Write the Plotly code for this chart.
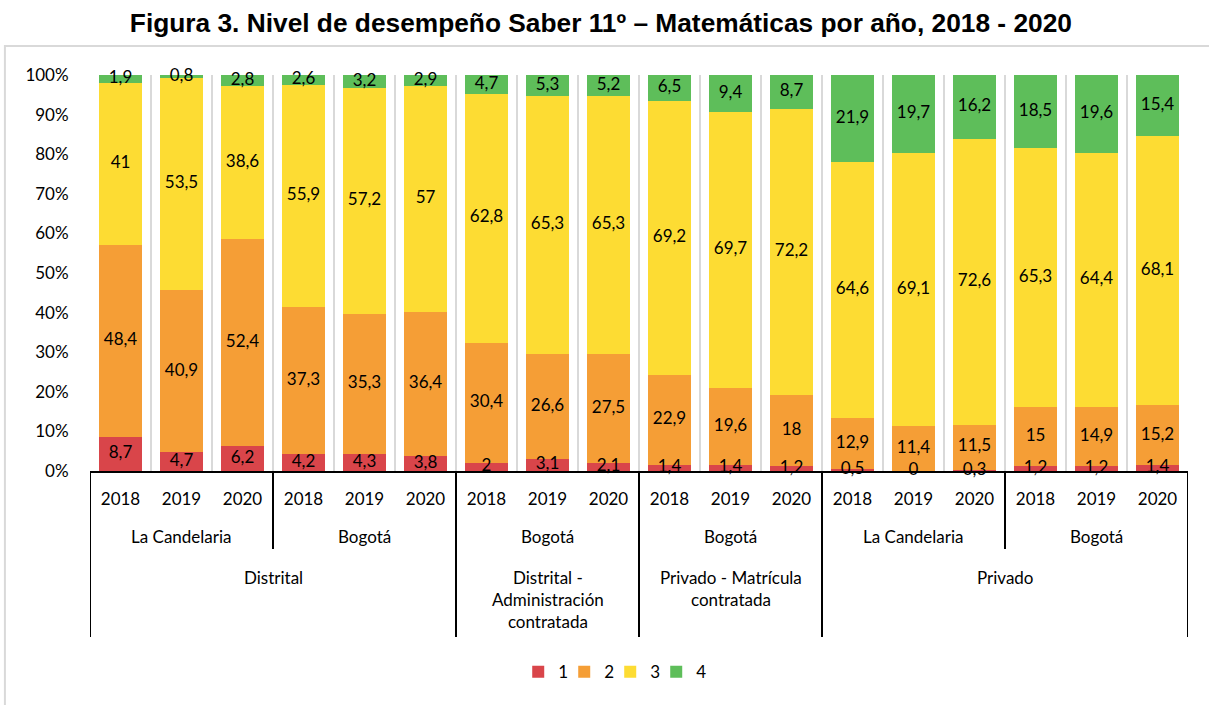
import plotly.graph_objects as go

# ---------------- data ----------------
years = ["2018", "2019", "2020"] * 6
locations = ["La Candelaria"] * 3 + ["Bogotá"] * 3 + ["Bogotá"] * 3 + ["Bogotá"] * 3 + ["La Candelaria"] * 3 + ["Bogotá"] * 3
sectors = (["Distrital"] * 6
           + ["Distrital -<br>Administración<br>contratada"] * 3
           + ["Privado - Matrícula<br>contratada"] * 3
           + ["Privado"] * 6)

level_names = ["1", "2", "3", "4"]
nivel1 = [8.7, 4.7, 6.2, 4.2, 4.3, 3.8, 2, 3.1, 2.1, 1.4, 1.4, 1.2, 0.5, 0, 0.3, 1.2, 1.2, 1.4]
nivel2 = [48.4, 40.9, 52.4, 37.3, 35.3, 36.4, 30.4, 26.6, 27.5, 22.9, 19.6, 18, 12.9, 11.4, 11.5, 15, 14.9, 15.2]
nivel3 = [41, 53.5, 38.6, 55.9, 57.2, 57, 62.8, 65.3, 65.3, 69.2, 69.7, 72.2, 64.6, 69.1, 72.6, 65.3, 64.4, 68.1]
nivel4 = [1.9, 0.8, 2.8, 2.6, 3.2, 2.9, 4.7, 5.3, 5.2, 6.5, 9.4, 8.7, 21.9, 19.7, 16.2, 18.5, 19.6, 15.4]
series = [nivel1, nivel2, nivel3, nivel4]
colors = ["#D9454A", "#F59E36", "#FDDC33", "#5EBE5A"]

y_ticks = list(range(0, 101, 10))
y_ticktext = [f"{v}%" for v in y_ticks]

title = "Figura 3. Nivel de desempeño Saber 11º – Matemáticas por año, 2018 - 2020"

FONT = "Lato, Open Sans, sans-serif"
FS = 17
n = len(years)
xs = list(range(n))

fig = go.Figure()
for name, vals, col in zip(level_names, series, colors):
    fig.add_trace(go.Bar(x=xs, y=vals, name=name, marker=dict(color=col, line=dict(width=0)),
                         hoverinfo="y+name"))
# invisible spacer entry so the last legend label is not clipped
fig.add_trace(go.Bar(x=[0], y=[0], name=" ",
                     marker=dict(color="rgba(255,255,255,0)", line=dict(width=0, color="rgba(255,255,255,0)")),
                     hoverinfo="skip", showlegend=True))

# data labels on top of all bars (normalized to 100%)
totals = [sum(s[i] for s in series) for i in range(n)]
lx, ly, lt = [], [], []
for i in range(n):
    cum = 0.0
    for s in series:
        v = s[i]
        lx.append(i)
        ly.append((cum + v / 2) / totals[i] * 100)
        lt.append(f"{v:g}".replace(".", ","))
        cum += v
fig.add_trace(go.Scatter(x=lx, y=ly, text=lt, mode="text", showlegend=False,
                         textfont=dict(family=FONT, size=FS, color="#000000"),
                         cliponaxis=False, hoverinfo="skip"))

# ---------------- multi-level category axis ----------------
shapes = []
annotations = []

def groups(labels):
    out = []
    start = 0
    for i in range(1, n + 1):
        if i == n or labels[i] != labels[start] or (labels is locations and sectors[i] != sectors[start]):
            out.append((start, i - 1, labels[start]))
            start = i
    return out

Y_LOC = -0.165
Y_SEC = -0.238
Y_SHORT = -0.197
Y_LONG = -0.419

for a, b, lab in groups(locations):
    annotations.append(dict(x=(a + b) / 2, y=Y_LOC, xref="x", yref="paper", text=lab, showarrow=False,
                            yanchor="middle", font=dict(family=FONT, size=FS, color="#000")))
for a, b, lab in groups(sectors):
    annotations.append(dict(x=(a + b) / 2, y=Y_SEC, xref="x", yref="paper", text=lab, showarrow=False,
                            yanchor="top", font=dict(family=FONT, size=FS, color="#000")))

for i in range(n + 1):
    xb = i - 0.5
    if i == 0 or i == n or sectors[i] != sectors[i - 1]:
        y1 = Y_LONG
    elif locations[i] != locations[i - 1]:
        y1 = Y_SHORT
    else:
        continue
    shapes.append(dict(type="line", xref="x", yref="paper", x0=xb, x1=xb, y0=0, y1=y1,
                       line=dict(color="#000000", width=2)))

# outer chart frame
shapes.append(dict(type="rect", xref="paper", yref="paper", x0=-0.0775, x1=1.05, y0=-0.65, y1=1.0735,
                   line=dict(color="#D9D9D9", width=2), layer="below"))

fig.update_layout(
    barmode="stack",
    barnorm="percent",
    bargap=0.3,
    width=1209, height=705,
    margin=dict(l=90, r=21, t=75, b=234),
    paper_bgcolor="white", plot_bgcolor="white",
    font=dict(family=FONT, size=FS, color="#000"),
    title=dict(text="<b>" + title + "</b>", x=0.497, xref="container", xanchor="center",
               y=1 - 23 / 705, yanchor="middle",
               font=dict(family="Liberation Sans Narrow, Arial Narrow, Liberation Sans, sans-serif",
                         size=26.3, color="#000")),
    xaxis=dict(range=[-0.5, n - 0.5], tickmode="array", tickvals=xs, ticktext=years,
               showline=True, linecolor="#000", linewidth=2, showgrid=False, zeroline=False,
               ticks="outside", ticklen=12, tickcolor="rgba(0,0,0,0)",
               tickfont=dict(family=FONT, size=FS, color="#000"),
               minor=dict(tickmode="array", tickvals=[i - 0.5 for i in range(n + 1)], showgrid=True,
                          gridcolor="#D9D9D9", gridwidth=2, ticks="")),
    yaxis=dict(range=[0, 100], tickmode="array", tickvals=y_ticks, ticktext=y_ticktext,
               showgrid=False, zeroline=False, showline=False,
               ticks="outside", ticklen=17, tickcolor="rgba(0,0,0,0)",
               tickfont=dict(family=FONT, size=FS, color="#000")),
    legend=dict(orientation="h", x=0.39, xanchor="left", y=-0.508, yanchor="middle",
                entrywidth=1, entrywidthmode="pixels",
                font=dict(family=FONT, size=FS, color="#000"), traceorder="normal"),
    shapes=shapes,
    annotations=annotations,
)

fig.write_html("out.html", config={"displayModeBar": False},
               post_script="document.body.style.margin='0';")
